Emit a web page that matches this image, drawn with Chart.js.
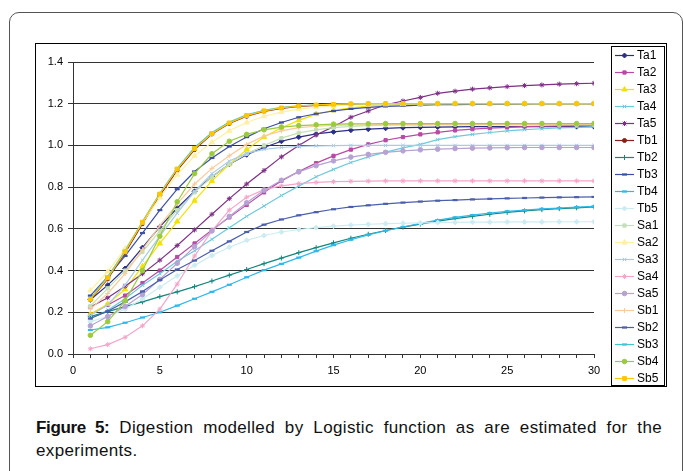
<!DOCTYPE html>
<html>
<head>
<meta charset="utf-8">
<script src="https://cdn.jsdelivr.net/npm/chart.js@4.4.1/dist/chart.umd.min.js"></script>
<style>
  html, body { margin: 0; padding: 0; background: #fff; }
  body { width: 683px; height: 471px; position: relative; overflow: hidden; font-family: "Liberation Sans", Arial, sans-serif; }
  .frame { position: absolute; left: 9px; top: 12px; width: 674px; height: 480px; border: 1px solid #555; border-radius: 10px; box-sizing: border-box; }
  .box { position: absolute; left: 35px; top: 43px; width: 632px; height: 344px; border: 1px solid #000; box-sizing: border-box; }
  #chart { position: absolute; left: 36px; top: 44px; }
  .caption { position: absolute; left: 36px; top: 416px; width: 626px; font-size: 17px; line-height: 23px; color: #111; letter-spacing: 0.35px; }
  .caption b { letter-spacing: -0.35px; }
  .caption .l1 { text-align: justify; text-align-last: justify; }
</style>
</head>
<body>
<div class="frame"></div>
<div class="box"></div>
<canvas id="chart" width="630" height="342"></canvas>
<div class="caption">
  <div class="l1"><b>Figure 5:</b> Digestion modelled by Logistic function as are estimated for the</div>
  <div>experiments.</div>
</div>
<script>
(function () {
  var days = [1, 2, 3, 4, 5, 6, 7, 8, 9, 10, 11, 12, 13, 14, 15, 16, 17, 18, 19, 20, 21, 22, 23, 24, 25, 26, 27, 28, 29, 30];
  var yTicks = [0, 0.2, 0.4, 0.6, 0.8, 1.0, 1.2, 1.4];
  var xLabels = [0, 5, 10, 15, 20, 25, 30];

  var ta1 = [0.26, 0.33, 0.41, 0.51, 0.61, 0.70, 0.78, 0.85, 0.91, 0.955, 0.99, 1.02, 1.04, 1.055, 1.065, 1.073, 1.078, 1.082, 1.085, 1.087, 1.088, 1.089, 1.09, 1.09, 1.09, 1.09, 1.09, 1.09, 1.09, 1.09];
  var ta2 = [0.19, 0.235, 0.28, 0.34, 0.40, 0.465, 0.53, 0.595, 0.655, 0.715, 0.775, 0.83, 0.875, 0.915, 0.95, 0.98, 1.005, 1.025, 1.04, 1.053, 1.063, 1.072, 1.078, 1.083, 1.087, 1.09, 1.092, 1.094, 1.095, 1.096];
  var ta3 = [0.19, 0.24, 0.31, 0.42, 0.53, 0.635, 0.735, 0.83, 0.91, 0.98, 1.04, 1.085, 1.12, 1.15, 1.168, 1.18, 1.188, 1.194, 1.197, 1.199, 1.2, 1.2, 1.2, 1.2, 1.2, 1.2, 1.2, 1.2, 1.2, 1.2];
  var ta4 = [0.17, 0.21, 0.265, 0.33, 0.385, 0.445, 0.495, 0.55, 0.605, 0.66, 0.71, 0.76, 0.805, 0.85, 0.885, 0.918, 0.945, 0.968, 0.988, 1.005, 1.028, 1.042, 1.053, 1.062, 1.07, 1.076, 1.08, 1.084, 1.087, 1.09];
  var ta5 = [0.225, 0.27, 0.325, 0.385, 0.45, 0.52, 0.595, 0.67, 0.745, 0.815, 0.88, 0.945, 1.0, 1.05, 1.09, 1.135, 1.165, 1.195, 1.213, 1.23, 1.25, 1.26, 1.27, 1.276, 1.282, 1.287, 1.29, 1.294, 1.296, 1.298];
  var tb1 = [0.26, 0.36, 0.485, 0.625, 0.76, 0.88, 0.98, 1.055, 1.105, 1.14, 1.163, 1.177, 1.187, 1.192, 1.196, 1.198, 1.199, 1.2, 1.2, 1.2, 1.2, 1.2, 1.2, 1.2, 1.2, 1.2, 1.2, 1.2, 1.2, 1.2];
  var tb2 = [0.18, 0.203, 0.227, 0.25, 0.275, 0.298, 0.323, 0.35, 0.378, 0.405, 0.433, 0.46, 0.486, 0.51, 0.533, 0.555, 0.574, 0.592, 0.608, 0.623, 0.637, 0.649, 0.66, 0.67, 0.679, 0.686, 0.692, 0.697, 0.701, 0.705];
  var tb3 = [0.28, 0.37, 0.47, 0.58, 0.69, 0.79, 0.875, 0.94, 0.995, 1.04, 1.08, 1.11, 1.135, 1.152, 1.165, 1.175, 1.182, 1.187, 1.19, 1.193, 1.195, 1.196, 1.197, 1.198, 1.198, 1.199, 1.2, 1.2, 1.2, 1.2];
  var tb4 = [0.115, 0.128, 0.15, 0.175, 0.2, 0.232, 0.265, 0.298, 0.332, 0.368, 0.402, 0.432, 0.462, 0.493, 0.522, 0.548, 0.571, 0.591, 0.609, 0.626, 0.642, 0.655, 0.666, 0.676, 0.684, 0.69, 0.696, 0.7, 0.704, 0.708];
  var tb5 = [0.155, 0.18, 0.215, 0.265, 0.32, 0.375, 0.425, 0.472, 0.512, 0.545, 0.568, 0.585, 0.597, 0.606, 0.613, 0.618, 0.622, 0.625, 0.627, 0.629, 0.63, 0.631, 0.632, 0.632, 0.633, 0.633, 0.633, 0.634, 0.634, 0.634];
  var sa1 = [0.23, 0.315, 0.40, 0.49, 0.59, 0.69, 0.775, 0.85, 0.91, 0.96, 1.0, 1.035, 1.06, 1.075, 1.085, 1.091, 1.095, 1.097, 1.098, 1.099, 1.1, 1.1, 1.1, 1.1, 1.1, 1.1, 1.1, 1.1, 1.1, 1.1];
  var sa2 = [0.305, 0.395, 0.505, 0.63, 0.75, 0.86, 0.95, 1.015, 1.07, 1.11, 1.14, 1.16, 1.174, 1.183, 1.189, 1.193, 1.195, 1.197, 1.198, 1.199, 1.2, 1.2, 1.2, 1.2, 1.2, 1.2, 1.2, 1.2, 1.2, 1.2];
  var sa3 = [0.185, 0.235, 0.33, 0.45, 0.565, 0.675, 0.78, 0.865, 0.925, 0.962, 0.981, 0.99, 0.995, 0.998, 0.999, 1.0, 1.0, 1.0, 1.0, 1.0, 1.0, 1.0, 1.0, 1.0, 1.0, 1.0, 1.0, 1.0, 1.0, 1.0];
  var sa4 = [0.025, 0.045, 0.08, 0.135, 0.215, 0.335, 0.47, 0.59, 0.69, 0.752, 0.788, 0.806, 0.817, 0.823, 0.826, 0.828, 0.829, 0.83, 0.83, 0.83, 0.83, 0.83, 0.83, 0.83, 0.83, 0.83, 0.83, 0.83, 0.83, 0.83];
  var sa5 = [0.135, 0.18, 0.228, 0.285, 0.358, 0.435, 0.515, 0.59, 0.66, 0.725, 0.785, 0.833, 0.873, 0.903, 0.926, 0.944, 0.957, 0.967, 0.974, 0.979, 0.982, 0.985, 0.987, 0.988, 0.989, 0.99, 0.99, 0.99, 0.99, 0.99];
  var sb1 = [0.215, 0.29, 0.385, 0.50, 0.615, 0.72, 0.815, 0.89, 0.95, 1.005, 1.045, 1.07, 1.085, 1.092, 1.096, 1.098, 1.099, 1.1, 1.1, 1.1, 1.1, 1.1, 1.1, 1.1, 1.1, 1.1, 1.1, 1.1, 1.1, 1.1];
  var sb2 = [0.17, 0.205, 0.25, 0.30, 0.355, 0.405, 0.448, 0.495, 0.54, 0.585, 0.62, 0.645, 0.665, 0.68, 0.694, 0.705, 0.713, 0.72, 0.726, 0.731, 0.735, 0.738, 0.741, 0.744, 0.746, 0.748, 0.75, 0.751, 0.752, 0.753];
  var sb3 = [0.265, 0.37, 0.495, 0.635, 0.77, 0.89, 0.99, 1.062, 1.112, 1.147, 1.168, 1.182, 1.19, 1.195, 1.198, 1.199, 1.2, 1.2, 1.2, 1.2, 1.2, 1.2, 1.2, 1.2, 1.2, 1.2, 1.2, 1.2, 1.2, 1.2];
  var sb4 = [0.09, 0.155, 0.255, 0.40, 0.565, 0.73, 0.865, 0.96, 1.02, 1.053, 1.075, 1.088, 1.095, 1.099, 1.102, 1.103, 1.104, 1.105, 1.105, 1.105, 1.105, 1.105, 1.105, 1.105, 1.105, 1.105, 1.105, 1.105, 1.105, 1.105];
  var sb5 = [0.262, 0.365, 0.49, 0.632, 0.767, 0.887, 0.985, 1.057, 1.108, 1.143, 1.166, 1.18, 1.189, 1.194, 1.197, 1.199, 1.2, 1.2, 1.2, 1.2, 1.2, 1.2, 1.2, 1.2, 1.2, 1.2, 1.2, 1.2, 1.2, 1.2];

  var series = [
    { name: "Ta1", values: ta1, color: "#2b2f86", marker: "rectRot", r: 2.5, bw: 1 },
    { name: "Ta2", values: ta2, color: "#b84aa5", marker: "rect", r: 2.3, bw: 1 },
    { name: "Ta3", values: ta3, color: "#f2e200", marker: "triangle", r: 3, bw: 1 },
    { name: "Ta4", values: ta4, color: "#70c8dc", marker: "crossRot", r: 2.5, bw: 1 },
    { name: "Ta5", values: ta5, color: "#7e2f86", marker: "star", r: 2.5, bw: 1 },
    { name: "Tb1", values: tb1, color: "#8b1c1c", marker: "circle", r: 2, bw: 1 },
    { name: "Tb2", values: tb2, color: "#14877e", marker: "cross", r: 2.5, bw: 1 },
    { name: "Tb3", values: tb3, color: "#3d4ea5", marker: "line", r: 2.5, bw: 2.2 },
    { name: "Tb4", values: tb4, color: "#2fb8ea", marker: "line", r: 2.5, bw: 2.2 },
    { name: "Tb5", values: tb5, color: "#cdecf2", marker: "rectRot", r: 2.5, bw: 1 },
    { name: "Sa1", values: sa1, color: "#c5e0b4", marker: "rect", r: 2.3, bw: 1 },
    { name: "Sa2", values: sa2, color: "#fff0a0", marker: "triangle", r: 3, bw: 1 },
    { name: "Sa3", values: sa3, color: "#a9cbeb", marker: "crossRot", r: 2.5, bw: 1 },
    { name: "Sa4", values: sa4, color: "#f4a6c9", marker: "star", r: 2.5, bw: 1 },
    { name: "Sa5", values: sa5, color: "#b6a2d3", marker: "circle", r: 2.3, bw: 1 },
    { name: "Sb1", values: sb1, color: "#fbc99b", marker: "cross", r: 2.5, bw: 1 },
    { name: "Sb2", values: sb2, color: "#4b5fae", marker: "line", r: 2.5, bw: 2.2 },
    { name: "Sb3", values: sb3, color: "#3fc6cf", marker: "line", r: 2.5, bw: 2.2 },
    { name: "Sb4", values: sb4, color: "#9bcb3c", marker: "circle", r: 2.3, bw: 1 },
    { name: "Sb5", values: sb5, color: "#ffc700", marker: "rect", r: 2.7, bw: 1 }
  ];

  Chart.defaults.font.family = "'Liberation Sans', Arial, sans-serif";
  Chart.defaults.font.size = 11;
  Chart.defaults.color = "#000";

  var datasets = series.map(function (s, i) {
    return {
      label: s.name,
      data: days.map(function (d, k) { return { x: d, y: s.values[k] }; }),
      borderColor: s.color,
      backgroundColor: s.color,
      borderWidth: 1.2,
      pointStyle: s.marker,
      pointRadius: s.r,
      pointBorderWidth: s.bw,
      tension: 0,
      fill: false,
      order: series.length - i
    };
  });

  // legend drawn inside the canvas, Excel style: line + marker + name
  var legendBox = {
    id: "legendBox",
    afterDraw: function (chart) {
      var ctx = chart.ctx;
      ctx.save();
      ctx.strokeStyle = "#000";
      ctx.lineWidth = 1;
      ctx.strokeRect(575.5, 2.5, 53, 339);
      ctx.font = "12px 'Liberation Sans', Arial, sans-serif";
      ctx.textBaseline = "middle";
      series.forEach(function (s, i) {
        var y = 11.5 + i * 17;
        ctx.strokeStyle = s.color;
        ctx.fillStyle = s.color;
        ctx.lineWidth = 1.2;
        ctx.beginPath();
        ctx.moveTo(579, y);
        ctx.lineTo(598, y);
        ctx.stroke();
        ctx.lineWidth = s.bw;
        Chart.helpers.drawPoint(ctx, { pointStyle: s.marker, radius: s.r, rotation: 0, borderWidth: s.bw }, 588.5, y);
        ctx.fillStyle = "#000";
        ctx.fillText(s.name, 601, y + 0.5);
      });
      ctx.restore();
    }
  };

  new Chart(document.getElementById("chart"), {
    type: "line",
    data: { datasets: datasets },
    options: {
      responsive: false,
      animation: false,
      layout: { padding: { top: 18, right: 72, left: 0, bottom: 0 } },
      plugins: { legend: { display: false }, tooltip: { enabled: false } },
      scales: {
        x: {
          type: "linear",
          min: 0,
          max: 30,
          afterFit: function (s) { s.height = 32; },
          grid: { drawOnChartArea: false, drawTicks: true, tickLength: 4, color: "#333" },
          border: { display: true, color: "#333", width: 1 },
          ticks: {
            stepSize: 1,
            autoSkip: false,
            maxRotation: 0,
            padding: 6,
            callback: function (v) { return xLabels.indexOf(v) >= 0 ? String(v) : ""; }
          }
        },
        y: {
          min: 0,
          max: 1.4,
          afterFit: function (s) { s.width = 37; },
          afterBuildTicks: function (s) { s.ticks = yTicks.map(function (v) { return { value: v }; }); },
          grid: { color: "#333", lineWidth: 1, drawTicks: true, tickLength: 5 },
          border: { display: true, color: "#333", width: 1 },
          ticks: {
            padding: 5,
            callback: function (v) { return Number(v).toFixed(1); }
          }
        }
      }
    },
    plugins: [legendBox]
  });
})();
</script>
</body>
</html>
